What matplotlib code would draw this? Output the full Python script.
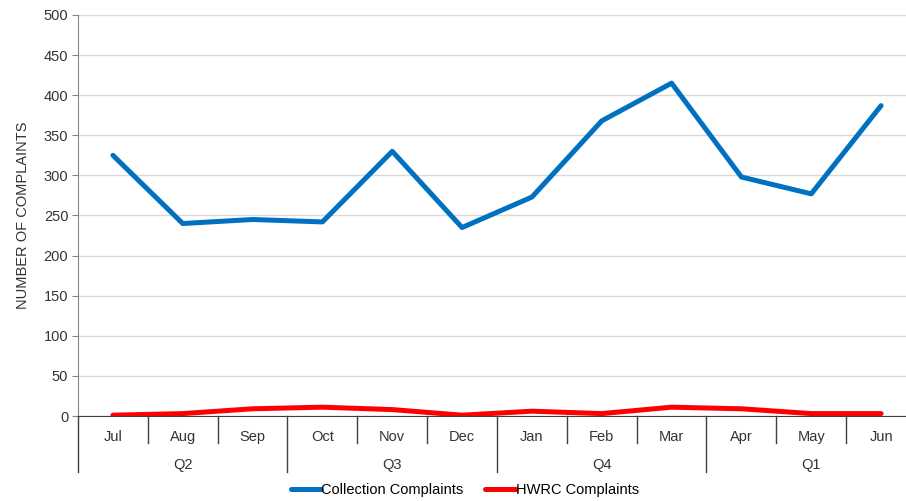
import matplotlib.pyplot as plt
from matplotlib.transforms import blended_transform_factory

plt.rcParams['font.family'] = ['Liberation Sans Narrow', 'Liberation Sans', 'DejaVu Sans']

months = ['Jul', 'Aug', 'Sep', 'Oct', 'Nov', 'Dec', 'Jan', 'Feb', 'Mar', 'Apr', 'May', 'Jun']
quarters = ['Q2', 'Q3', 'Q4', 'Q1']
collection = [325, 240, 245, 242, 330, 235, 273, 368, 415, 298, 277, 387]
hwrc = [1, 3, 9, 11, 8, 1, 6, 3, 11, 9, 3, 3]

fig = plt.figure(figsize=(9.06, 5.01), dpi=100)
ax = fig.add_axes([78 / 906, 85 / 501, 838 / 906, 401 / 501])

x = list(range(len(months)))
ax.plot(x, collection, color='#0070C0', lw=3.6, solid_capstyle='round',
        solid_joinstyle='round', label='Collection Complaints', zorder=3)
ax.plot(x, hwrc, color='#FF0000', lw=3.6, solid_capstyle='round',
        solid_joinstyle='round', label='HWRC Complaints', zorder=3)

ax.set_xlim(-0.5, len(months) - 0.5)
ax.set_ylim(0, 500)
ax.set_yticks(range(0, 501, 50))
ax.yaxis.grid(True, color='#D9D9D9', lw=1)
ax.set_axisbelow(True)
ax.tick_params(axis='y', length=4, color='#868686', labelsize=10.5, labelcolor='#333333', pad=3)
ax.set_xticks([])

for s in ['top', 'right']:
    ax.spines[s].set_visible(False)
ax.spines['left'].set_color('#868686')
ax.spines['bottom'].set_color('#404040')

ax.set_ylabel('NUMBER OF COMPLAINTS', fontsize=10.5, color='#333333', labelpad=10)

# two-level category axis
tr = blended_transform_factory(ax.transData, ax.transAxes)
for i, m in enumerate(months):
    ax.text(i, -0.053, m, transform=tr, ha='center', va='center', fontsize=10.5, color='#333333')
for k in range(len(months) + 1):
    xb = k - 0.5
    low = -0.1397 if k % 3 == 0 else -0.0673
    ax.plot([xb, xb], [0, low], transform=tr, color='#404040', lw=1, clip_on=False)
for q, name in enumerate(quarters):
    ax.text(q * 3 + 1, -0.122, name, transform=tr, ha='center', va='center', fontsize=10.5, color='#333333')

fig.legend(loc='center', bbox_to_anchor=(0.513, 0.022), ncol=2, frameon=False,
           fontsize=10.5, handlelength=2.1, handletextpad=0, columnspacing=1.5)

fig.savefig('out.png', dpi=100, facecolor='white')
